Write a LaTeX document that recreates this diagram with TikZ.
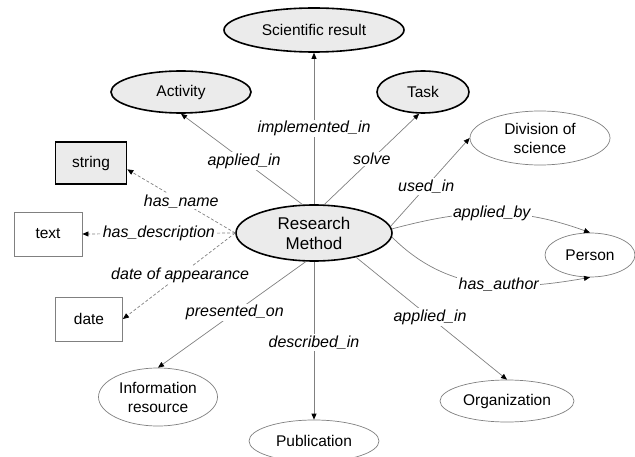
\documentclass[tikz,border=0pt]{standalone}
\usepackage{fontspec}
\setmainfont{Liberation Sans}
\usetikzlibrary{arrows.meta,shapes.geometric}
\definecolor{lnc}{HTML}{808080}
\definecolor{nfill}{HTML}{EBEBEB}
\begin{document}
\begin{tikzpicture}[x=1pt,y=1pt,
  every node/.style={font=\fontsize{15.5}{19}\selectfont},
  keyell/.style={ellipse, draw=black, line width=1.6pt, fill=nfill, inner sep=0pt, align=center},
  plainell/.style={ellipse, draw=lnc, line width=0.7pt, fill=white, inner sep=0pt, align=center},
  keybox/.style={rectangle, draw=black, line width=1.6pt, fill=nfill, inner sep=0pt},
  plainbox/.style={rectangle, draw=lnc, line width=0.8pt, inner sep=0pt},
  rel/.style={draw=lnc, line width=0.7pt, -{Triangle[length=6pt,width=5pt,color=black]}},
  drel/.style={rel, dash pattern=on 3pt off 2pt},
  lbl/.style={fill=white, inner sep=1.5pt, font=\fontsize{16}{19}\selectfont\itshape},
]
\useasboundingbox (0,0) rectangle (635,-457);

\node[keyell, minimum width=156pt, minimum height=56pt, font=\fontsize{17}{20}\selectfont] (RM) at (314,-233) {Research\\Method};
\node[keyell, minimum width=180pt, minimum height=44pt] (Sci) at (314,-30) {Scientific result};
\node[keyell, minimum width=140pt, minimum height=42pt] (Act) at (181,-92) {Activity};
\node[keyell, minimum width=92pt, minimum height=42pt] (Task) at (423,-92) {Task};
\node[plainell, minimum width=140pt, minimum height=54pt] (Div) at (540,-138) {Division of\\science};
\node[keybox, minimum width=71pt, minimum height=42pt] (str) at (91,-163) {string};
\node[plainbox, minimum width=68pt, minimum height=44pt] (txt) at (48,-234) {text};
\node[plainbox, minimum width=67pt, minimum height=44pt] (dat) at (89,-319) {date};
\node[plainell, minimum width=90pt, minimum height=44pt] (Per) at (590,-255) {Person};
\node[plainell, minimum width=119pt, minimum height=58pt] (Info) at (158,-397) {Information\\resource};
\node[plainell, minimum width=130pt, minimum height=42pt] (Pub) at (314,-441) {Publication};
\node[plainell, minimum width=134pt, minimum height=42pt] (Org) at (507,-401) {Organization};

\draw[rel] (RM.north) -- node[lbl, pos=0.5] {implemented\_in} (Sci.south);
\draw[rel] (RM.112) -- node[lbl, pos=0.48] {applied\_in} (Act.south);
\draw[rel] (RM.70) -- node[lbl, pos=0.5] {solve} (Task.-100);
\draw[rel] (RM.5) -- node[lbl, pos=0.45] {used\_in} (Div.west);
\draw[rel] (RM.3) to[out=15,in=160] node[lbl, pos=0.5] {applied\_by} (Per.north);
\draw[rel] (RM.-3) to[out=-45,in=190] node[lbl, pos=0.58] {has\_author} (Per.south);
\draw[rel] (RM.-30) -- node[lbl, pos=0.49] {applied\_in} (Org.north);
\draw[rel] (RM.south) -- node[lbl, pos=0.51] {described\_in} (Pub.north);
\draw[rel] (RM.254) -- node[lbl, pos=0.48] {presented\_on} (Info.north);
\draw[drel] (RM.west) -- node[lbl, pos=0.5] {has\_name} (str.-10);
\draw[drel] (RM.west) -- node[lbl, pos=0.5] {has\_description} (txt.east);
\draw[drel] (RM.west) -- node[lbl, pos=0.49] {date of appearance} (dat.east);
\end{tikzpicture}
\end{document}
